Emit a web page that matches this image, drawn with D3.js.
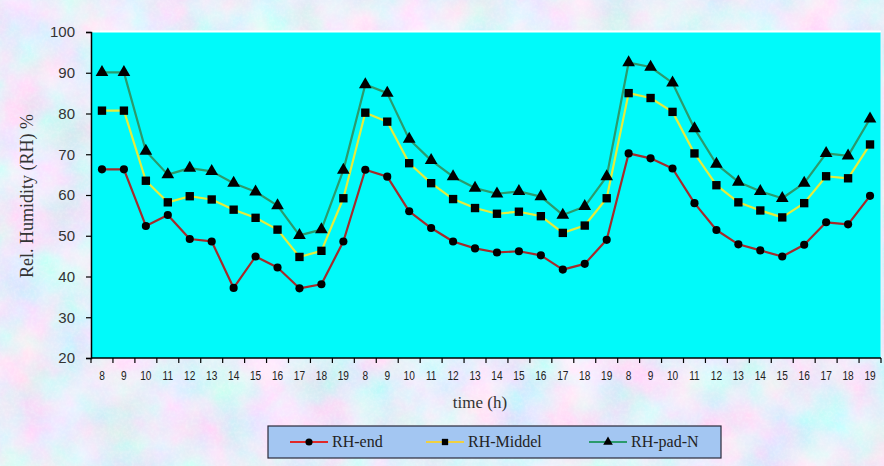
<!DOCTYPE html>
<html>
<head>
<meta charset="utf-8">
<script src="https://cdn.jsdelivr.net/npm/d3@7"></script>
<style>
  html, body { margin: 0; padding: 0; background: #cdd6f0; }
  svg { display: block; }
</style>
</head>
<body>
<svg id="chart" width="884" height="466"></svg>
<script>
// Hour-of-day labels for three consecutive measuring days
const timeLabels = [
  "8","9","10","11","12","13","14","15","16","17","18","19",
  "8","9","10","11","12","13","14","15","16","17","18","19",
  "8","9","10","11","12","13","14","15","16","17","18","19"
];

// Relative humidity (%) per position
const rhEnd = [
  66.3, 66.3, 52.4, 55.1, 49.2, 48.6, 37.2, 44.9, 42.2, 37.1, 38.1, 48.6,
  66.2, 64.5, 56.0, 51.9, 48.6, 46.9, 45.9, 46.2, 45.2, 41.7, 43.1, 49.0,
  70.2, 69.0, 66.5, 58.0, 51.4, 47.9, 46.4, 44.9, 47.8, 53.3, 52.8, 59.8
];
const rhMiddel = [
  80.7, 80.7, 63.5, 58.2, 59.7, 58.9, 56.4, 54.4, 51.5, 44.8, 46.3, 59.2,
  80.2, 78.0, 67.8, 62.9, 59.0, 56.8, 55.4, 55.9, 54.8, 50.7, 52.5, 59.2,
  85.0, 83.8, 80.4, 70.2, 62.4, 58.2, 56.2, 54.5, 58.0, 64.6, 64.1, 72.4
];
const rhPadN = [
  90.1, 90.1, 70.8, 65.0, 66.6, 65.8, 62.9, 60.8, 57.4, 50.1, 51.5, 66.1,
  87.1, 85.0, 73.7, 68.5, 64.5, 61.7, 60.3, 60.9, 59.6, 55.1, 57.2, 64.5,
  92.5, 91.4, 87.5, 76.3, 67.6, 63.2, 60.9, 59.2, 62.9, 70.2, 69.6, 78.7
];
const yTicks = [20, 30, 40, 50, 60, 70, 80, 90, 100];

const seriesNames = ["RH-end", "RH-Middel", "RH-pad-N"];
const seriesColors = ["#a52a2a", "#e4ec3c", "#2b9a6c"];
const legendColors = ["#e02828", "#f0d040", "#2b9a6c"];
const seriesShapes = [d3.symbolCircle, d3.symbolSquare, d3.symbolTriangle];
const seriesValues = [rhEnd, rhMiddel, rhPadN];

const svg = d3.select("#chart");
const W = 884, H = 466;
const plot = { left: 91, right: 881, top: 32, bottom: 358 };

// Mottled pastel paper background
const defs = svg.append("defs");
const f = defs.append("filter").attr("id", "paper")
  .attr("x", 0).attr("y", 0).attr("width", "100%").attr("height", "100%");
f.append("feTurbulence").attr("type", "fractalNoise")
  .attr("baseFrequency", "0.02").attr("numOctaves", 4).attr("seed", 7)
  .attr("result", "noise");
f.append("feColorMatrix").attr("in", "noise").attr("type", "matrix")
  .attr("values",
    "0.8 0 0 0 0.40  " +
    "-0.35 0.3 0 0 0.87  " +
    "0 0 0.2 0 0.85  " +
    "0 0 0 0 1");
svg.append("rect").attr("width", W).attr("height", H).attr("filter", "url(#paper)");

// Fine grain on top of the paper
const g2 = defs.append("filter").attr("id", "grain")
  .attr("x", 0).attr("y", 0).attr("width", "100%").attr("height", "100%");
g2.append("feTurbulence").attr("type", "fractalNoise")
  .attr("baseFrequency", "0.35").attr("numOctaves", 2).attr("seed", 3).attr("result", "n");
g2.append("feColorMatrix").attr("in", "n").attr("type", "matrix")
  .attr("values",
    "0 0 0 0 1  " +
    "0 0 0 0 1  " +
    "0 0 0 0 1  " +
    "0 0 0 0.5 -0.2");
svg.append("rect").attr("width", W).attr("height", H).attr("filter", "url(#grain)");

// Scales
const x = d3.scaleBand()
  .domain(d3.range(timeLabels.length))
  .range([plot.left, plot.right])
  .padding(0);
const y = d3.scaleLinear().domain([20, 100]).range([plot.bottom, plot.top]);

// Plot area
svg.append("rect")
  .attr("x", plot.left).attr("y", plot.top)
  .attr("width", plot.right - plot.left).attr("height", plot.bottom - plot.top)
  .attr("fill", "#00fafa");
svg.append("line")
  .attr("x1", plot.left).attr("x2", plot.right)
  .attr("y1", plot.top - 0.5).attr("y2", plot.top - 0.5)
  .attr("stroke", "#ffffff").attr("stroke-width", 2);
svg.append("line")
  .attr("x1", plot.right + 0.5).attr("x2", plot.right + 0.5)
  .attr("y1", plot.top).attr("y2", plot.bottom)
  .attr("stroke", "#e8eef8").attr("stroke-width", 2);

// Y axis
const yAxis = svg.append("g")
  .attr("transform", `translate(${plot.left},0)`)
  .call(d3.axisLeft(y).tickValues(yTicks).tickSize(5).tickPadding(11).tickFormat(d3.format("d")));
yAxis.select(".domain").attr("stroke", "#000").attr("stroke-width", 1.5);
yAxis.selectAll(".tick line").attr("stroke", "#000").attr("stroke-width", 1.2);
yAxis.selectAll(".tick text")
  .attr("fill", "#333")
  .style("font-family", "Arial, 'Liberation Sans', sans-serif")
  .style("font-size", "15px");

// X axis: ticks at band edges, labels centred in each band
const xAxisG = svg.append("g").attr("transform", `translate(0,${plot.bottom})`);
xAxisG.append("line")
  .attr("x1", plot.left).attr("x2", plot.right)
  .attr("stroke", "#000").attr("stroke-width", 1.5);
const edges = d3.range(timeLabels.length + 1).map(i =>
  i < timeLabels.length ? x(i) : x(timeLabels.length - 1) + x.bandwidth());
xAxisG.selectAll("line.edge").data(edges).join("line")
  .attr("class", "edge")
  .attr("x1", d => d).attr("x2", d => d)
  .attr("y1", 0).attr("y2", 5)
  .attr("stroke", "#000").attr("stroke-width", 1.2);
xAxisG.selectAll("text").data(timeLabels).join("text")
  .attr("transform", (d, i) => `translate(${x(i) + x.bandwidth() / 2},22) scale(0.78,1)`)
  .attr("text-anchor", "middle")
  .attr("fill", "#222")
  .style("font-family", "Arial, 'Liberation Sans', sans-serif")
  .style("font-size", "13px")
  .text(d => d);

// Series lines and markers
const line = d3.line()
  .x((d, i) => x(i) + x.bandwidth() / 2)
  .y(d => y(d));
const markerSizes = [52, 70, 70];

seriesValues.forEach((vals, s) => {
  svg.append("path")
    .datum(vals)
    .attr("fill", "none")
    .attr("stroke", seriesColors[s])
    .attr("stroke-width", 2.2)
    .attr("stroke-linejoin", "round")
    .attr("d", line);
  svg.append("g").selectAll("path").data(vals).join("path")
    .attr("transform", (d, i) => `translate(${x(i) + x.bandwidth() / 2},${y(d)})`)
    .attr("d", d3.symbol().type(seriesShapes[s]).size(markerSizes[s]))
    .attr("fill", "#000");
});

// Axis titles
svg.append("text")
  .attr("transform", `translate(33,196) rotate(-90)`)
  .attr("text-anchor", "middle")
  .attr("fill", "#333")
  .style("font-family", "'Liberation Serif', 'Times New Roman', serif")
  .style("font-size", "18px")
  .text("Rel. Humidity (RH) %");
svg.append("text")
  .attr("x", 480).attr("y", 408)
  .attr("text-anchor", "middle")
  .attr("fill", "#333")
  .style("font-family", "'Liberation Serif', 'Times New Roman', serif")
  .style("font-size", "17px")
  .text("time (h)");

// Legend
const legend = svg.append("g");
legend.append("rect")
  .attr("x", 268).attr("y", 426).attr("width", 453).attr("height", 32)
  .attr("fill", "#a3c6f2").attr("stroke", "#2a2a3a").attr("stroke-width", 1.2);
const legendX = [290, 426, 589];
seriesNames.forEach((name, s) => {
  const lx = legendX[s], ly = 442;
  legend.append("line")
    .attr("x1", lx).attr("x2", lx + 38).attr("y1", ly).attr("y2", ly)
    .attr("stroke", legendColors[s]).attr("stroke-width", 2);
  legend.append("path")
    .attr("transform", `translate(${lx + 19},${ly})`)
    .attr("d", d3.symbol().type(seriesShapes[s]).size(40))
    .attr("fill", "#000");
  legend.append("text")
    .attr("x", lx + 42).attr("y", ly + 5)
    .attr("fill", "#222")
    .style("font-family", "'Liberation Serif', 'Times New Roman', serif")
    .style("font-size", "16px")
    .text(name);
});
</script>
</body>
</html>
